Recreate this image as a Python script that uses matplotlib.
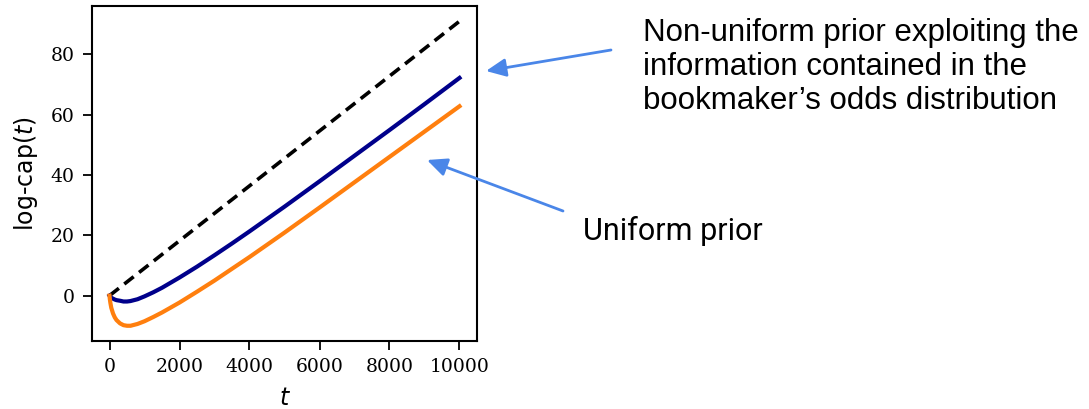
import matplotlib
matplotlib.use("Agg")
import matplotlib.pyplot as plt

# horizon t and log-capital curves
t_vals = [0, 10, 25, 50, 100, 150, 200, 300, 400, 500, 600, 800, 1000, 1250,
          1500, 2000, 2500, 3000, 3500, 4000, 5000, 6000, 7000, 8000, 9000,
          10000]
logcap_informed = [0.0, -0.2, -0.45, -0.7, -1.0, -1.3, -1.5, -1.7, -1.95,
                   -1.95, -1.8, -1.2, -0.25, 1.1, 2.6, 6.0, 9.6, 13.4, 17.3,
                   21.3, 29.5, 37.9, 46.4, 54.9, 63.5, 72.2]
logcap_uniform = [0.0, -1.2, -2.4, -4.0, -5.9, -7.2, -8.1, -9.2, -9.8, -10.0,
                  -10.0, -9.4, -8.5, -7.1, -5.6, -2.3, 1.3, 5.0, 8.9, 12.8,
                  20.9, 29.2, 37.6, 46.0, 54.4, 62.8]
t_ref = [0, 10000]
logcap_ref = [0.0, 91.0]

W, H = 1089, 409


def px(x, y):
    # pixel position (from top-left) to figure fraction
    return x / W, 1 - y / H


fig = plt.figure(figsize=(W / 100, H / 100), dpi=100)
ax = fig.add_axes([92 / W, 1 - 341 / H, (477 - 92) / W, (341 - 6) / H])

ax.plot(t_ref, logcap_ref, color="black", lw=2.6, ls=(0, (3.3, 1.9)))
ax.plot(t_vals, logcap_informed, color="#00008b", lw=3.0)
ax.plot(t_vals, logcap_uniform, color="#ff7f0e", lw=3.0)

ax.set_xticks([0, 2000, 4000, 6000, 8000, 10000])
ax.set_yticks([0, 20, 40, 60, 80])
ax.tick_params(length=6.5, width=1.3, pad=6, labelsize=13.5)
for lab in ax.get_xticklabels() + ax.get_yticklabels():
    lab.set_family("DejaVu Serif")
for sp in ax.spines.values():
    sp.set_linewidth(1.5)

ax.set_ylabel("log-cap($t$)", fontsize=17, family="DejaVu Sans", labelpad=8)
ax.set_xlabel("$t$", fontsize=17, labelpad=7)

arrow_kw = dict(arrowstyle="-|>,head_length=1.2,head_width=0.55",
                color="#4a86e8", lw=2.0, shrinkA=0, shrinkB=0)
ax.annotate("", xy=px(486, 71), xytext=px(611, 50),
            xycoords="figure fraction", textcoords="figure fraction",
            arrowprops=arrow_kw)
ax.annotate("", xy=px(427, 160), xytext=px(563, 211),
            xycoords="figure fraction", textcoords="figure fraction",
            arrowprops=arrow_kw)

x0, y0 = px(643, 18)
fig.text(x0, y0, "Non-uniform prior exploiting the\ninformation contained in the\n"
         "bookmaker\u2019s odds distribution",
         family="Liberation Sans", fontsize=22.5, va="top", ha="left",
         linespacing=1.17)
x1, y1 = px(583, 240)
fig.text(x1, y1, "Uniform prior", family="Roboto", fontsize=22,
         va="baseline", ha="left")

fig.savefig("out.png", dpi=100)
